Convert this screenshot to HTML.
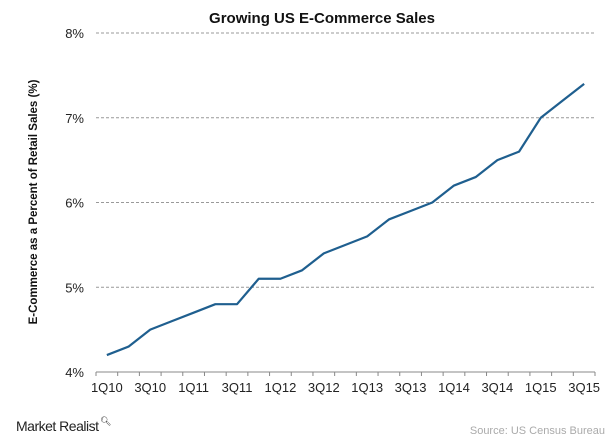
<!DOCTYPE html>
<html><head><meta charset="utf-8"><style>
body{margin:0;background:#fff;font-family:"Liberation Sans",Arial,sans-serif}
svg{display:block}
</style></head><body>
<svg width="615" height="440" id="c">
<text x="322" y="23" text-anchor="middle" font-size="15" font-weight="bold" fill="#111">Growing US E-Commerce Sales</text>
<text transform="translate(37,202) rotate(-90)" text-anchor="middle" font-size="11.5" font-weight="bold" fill="#111">E-Commerce as a Percent of Retail Sales (%)</text>
<g id="grid"></g><g id="xax"></g>
<path id="line" fill="none" stroke="#1f5f8f" stroke-width="2.2" stroke-linejoin="round"/>
<text x="16" y="431" font-size="14" fill="#222" style="letter-spacing:-0.5px">Market Realist</text>
<text x="100" y="424" font-size="9" fill="#222">🔍︎</text>
<text x="605" y="434" text-anchor="end" font-size="11" fill="#aaa">Source: US Census Bureau</text>
</svg>
<script>
const categories=["1Q10","2Q10","3Q10","4Q10","1Q11","2Q11","3Q11","4Q11","1Q12","2Q12","3Q12","4Q12","1Q13","2Q13","3Q13","4Q13","1Q14","2Q14","3Q14","4Q14","1Q15","2Q15","3Q15"];
const values=[4.2,4.3,4.5,4.6,4.7,4.8,4.8,5.1,5.1,5.2,5.4,5.5,5.6,5.8,5.9,6.0,6.2,6.3,6.5,6.6,7.0,7.2,7.4];
const yTicks=[4,5,6,7,8];
const yTickLabels=["4%","5%","6%","7%","8%"];
const NS="http://www.w3.org/2000/svg";
const x0=96,x1=595,y0=372,y1=33,ymin=4,ymax=8;
const bw=(x1-x0)/categories.length;
const X=i=>x0+(i+0.5)*bw;
const Y=v=>y0-(v-ymin)/(ymax-ymin)*(y0-y1);
const grid=document.getElementById('grid'),xax=document.getElementById('xax');
function mk(t,a,p){const e=document.createElementNS(NS,t);for(const k in a)e.setAttribute(k,a[k]);p.appendChild(e);return e;}
yTicks.forEach((v,i)=>{
 if(i>0){const l=mk('line',{x1:x0,x2:x1,y1:Y(v),y2:Y(v),stroke:'#999','stroke-dasharray':'3,2','stroke-width':1},grid);
 
 }
 const t=mk('text',{x:84,y:Y(v)+5,'text-anchor':'end','font-size':13,fill:'#222'},grid);t.textContent=yTickLabels[i];
 
 
});
const ax=mk('line',{x1:x0,x2:x1,y1:y0,y2:y0,stroke:'#888'},xax);


for(let i=0;i<=categories.length;i++){mk('line',{x1:x0+i*bw,x2:x0+i*bw,y1:y0,y2:y0+4,stroke:'#888'},xax);}
categories.forEach((c,i)=>{if(i%2==0){const t=mk('text',{x:X(i),y:392,'text-anchor':'middle','font-size':13,fill:'#222'},xax);t.textContent=c;
 
 }});
document.getElementById('line').setAttribute('d',values.map((v,i)=>(i?'L':'M')+X(i)+','+Y(v)).join(''));
</script>
</body></html>
